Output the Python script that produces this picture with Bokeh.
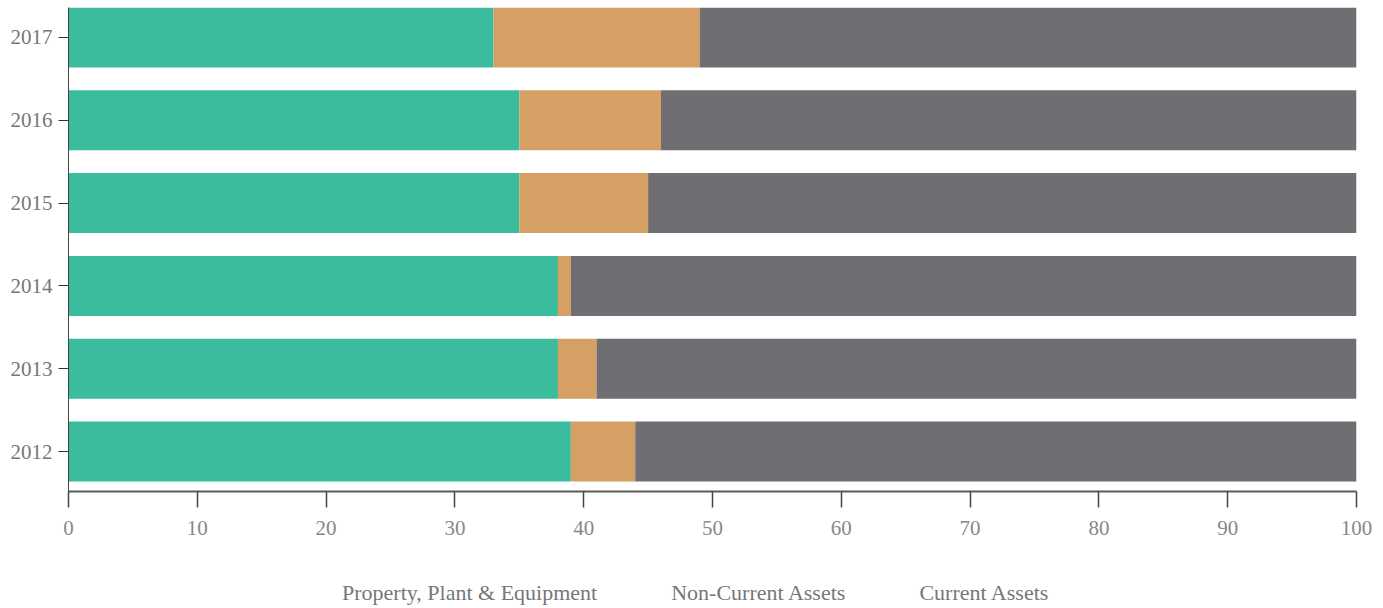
from bokeh.plotting import figure
from bokeh.layouts import column
from bokeh.models import (ColumnDataSource, Range1d, FixedTicker, LinearAxis,
                          Legend, LegendItem, CDSView, IndexFilter)
from bokeh.embed import file_html
from bokeh.resources import INLINE

years = ["2012", "2013", "2014", "2015", "2016", "2017"]
ppe = [39, 38, 38, 35, 35, 33]
nca = [5, 3, 1, 10, 11, 16]
ca = [56, 59, 61, 55, 54, 51]
series = ["Property, Plant & Equipment", "Non-Current Assets", "Current Assets"]
colors = ["#3bbc9e", "#d69f63", "#6e6e73"]
x_ticks = [0, 10, 20, 30, 40, 50, 60, 70, 80, 90, 100]

FONT = "Liberation Serif"
pos = list(range(len(years)))
source = ColumnDataSource(dict(y=pos, ppe=ppe, nca=nca, ca=ca))

p = figure(width=1383, height=560, x_range=Range1d(0, 100),
           y_range=Range1d(-0.483, 5.362), output_backend="svg",
           toolbar_location=None, min_border_left=68, min_border_right=27,
           min_border_top=7, min_border_bottom=69, outline_line_color=None)
p.grid.visible = False

p.hbar_stack(["ppe", "nca", "ca"], y="y", height=0.725,
             color=colors, line_color=None, source=source)

# x axis
xa = p.xaxis[0]
xa.ticker = FixedTicker(ticks=x_ticks)
xa.axis_line_color = "#5a5a5a"
xa.axis_line_width = 2
xa.major_tick_out = 16
xa.major_tick_in = 0
xa.major_tick_line_color = "#444444"
xa.major_tick_line_width = 1.5
xa.minor_tick_line_color = None
xa.major_label_standoff = 13
xa.major_label_text_font = FONT
xa.major_label_text_font_size = "21px"
xa.major_label_text_color = "#888888"

# inner y axis: only the line
ya = p.yaxis[0]
ya.ticker = FixedTicker(ticks=[])
ya.axis_line_color = "#444444"
ya.axis_line_width = 1
ya.major_tick_out = 5
ya.major_tick_in = 0
ya.minor_tick_out = 0
ya.minor_tick_in = 0
ya.major_label_standoff = 0

# outer y axis: ticks and labels
labels = {i: y for i, y in zip(pos, years)}
ya2 = LinearAxis(ticker=FixedTicker(ticks=pos), major_label_overrides=labels,
                 axis_line_color=None, major_tick_out=10, major_tick_in=0,
                 major_tick_line_color="#333333", major_tick_line_width=1.2,
                 minor_tick_line_color=None, major_label_standoff=6,
                 major_label_text_font=FONT, major_label_text_font_size="21px",
                 major_label_text_color="#777777")
p.add_layout(ya2, "left")

# legend strip below the chart (its renderers draw no rows)
p2 = figure(width=1383, height=48, x_range=Range1d(0, 100),
            y_range=Range1d(-20, -19), output_backend="svg",
            toolbar_location=None, x_axis_location=None, y_axis_location=None,
            min_border=0, outline_line_color=None)
p2.grid.visible = False
empty_view = CDSView(filter=IndexFilter(indices=[]))
leg_renderers = p2.hbar_stack(["ppe", "nca", "ca"], y="y", height=0.725,
                              color=colors, line_color=None, source=source,
                              view=empty_view)

legend = Legend(items=[LegendItem(label=s, renderers=[r]) for s, r in zip(series, leg_renderers)],
                orientation="horizontal", location=(240, 2),
                glyph_width=26, glyph_height=26, label_standoff=8, spacing=40,
                padding=0, margin=0, border_line_color=None,
                background_fill_alpha=0, label_text_font=FONT,
                label_text_font_size="22px", label_text_color="#777777")
p2.add_layout(legend)

layout = column(p, p2, spacing=0)
open("out.html", "w").write(file_html(layout, INLINE))
